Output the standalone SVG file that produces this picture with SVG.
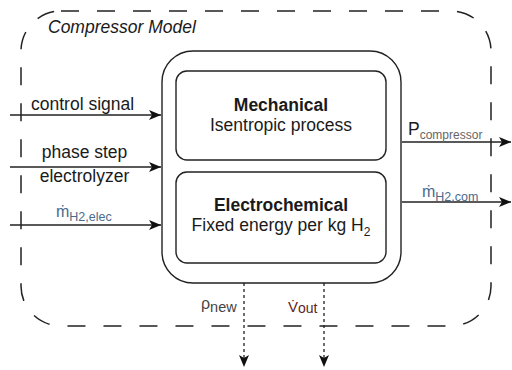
<svg xmlns="http://www.w3.org/2000/svg" width="512" height="370" viewBox="0 0 512 370">
<defs>
<style>
text{font-family:"Liberation Sans",Arial,sans-serif;fill:#1a1a1a}
.lbl{font-size:17.5px}
.b{font-weight:bold}
.mid{text-anchor:middle}
.box{fill:none;stroke:#222;stroke-width:1.4}
.edge{fill:none;stroke:#222;stroke-width:1.4}
.dash{fill:none;stroke:#222;stroke-width:1.3;stroke-dasharray:3 3}
.blue{fill:#4a6a8c}
.red{fill:#5e2424}
.gray{fill:#444}
.sub{fill:#666}
</style>
<marker id="arr" viewBox="0 0 12 10" refX="12" refY="5" markerWidth="12" markerHeight="10" markerUnits="userSpaceOnUse" orient="auto">
<path d="M0,0 L12,5 L0,10 L3,5 z" fill="#111"/>
</marker>
</defs>
<rect width="512" height="370" fill="#fff"/>
<g id="compressor-model">
<rect x="21" y="11" width="470" height="315" rx="40" ry="40" fill="none" stroke="#222" stroke-width="1.5" stroke-dasharray="18 18"/>
<text x="48" y="33" class="lbl" font-style="italic" fill="#333">Compressor Model</text>
</g>
<g id="connectors">
<line x1="10" y1="115" x2="161" y2="115" class="edge" marker-end="url(#arr)"/>
<line x1="10" y1="167" x2="161" y2="167" class="edge" marker-end="url(#arr)"/>
<line x1="10" y1="225" x2="161" y2="225" class="edge" stroke="#444" marker-end="url(#arr)"/>
<line x1="402" y1="142" x2="511" y2="142" class="edge" marker-end="url(#arr)"/>
<line x1="402" y1="202" x2="511" y2="202" class="edge" stroke="#444" marker-end="url(#arr)"/>
<line x1="244" y1="283" x2="244" y2="367" class="dash" marker-end="url(#arr)"/>
<line x1="324" y1="283" x2="324" y2="367" class="dash" marker-end="url(#arr)"/>
<text x="31" y="110" class="lbl">control signal</text>
<text x="84.5" y="158" class="lbl mid">phase step</text>
<text x="84.5" y="182" class="lbl mid">electrolyzer</text>
<text x="56" y="217" class="blue" font-size="16">ṁ<tspan class="blue" font-size="12.5" dy="4">H2,elec</tspan></text>
<text x="408" y="135" font-size="17.5">P<tspan class="sub" font-size="12" dy="4">compressor</tspan></text>
<text x="422" y="197" class="blue" font-size="16">ṁ<tspan class="blue" font-size="12.5" dy="4">H2,com</tspan></text>
<text x="201" y="309" class="gray" font-size="16">ρ<tspan class="gray" font-size="14.5" dy="3">new</tspan></text>
<text x="288" y="312" class="red" font-size="15">V̇<tspan class="red" font-size="14" dy="1">out</tspan></text>
</g>
<g id="compressor">
<rect x="162" y="51" width="239" height="232" rx="31" ry="31" class="box"/>
</g>
<g id="mechanical">
<rect x="176" y="71" width="210" height="89" rx="11" ry="11" class="box"/>
<text x="281" y="111" class="lbl b mid">Mechanical</text>
<text x="281" y="131" class="lbl mid">Isentropic process</text>
</g>
<g id="electrochemical">
<rect x="176" y="172" width="210" height="91" rx="11" ry="11" class="box"/>
<text x="281" y="211" class="lbl b mid">Electrochemical</text>
<text x="281" y="231" class="lbl mid">Fixed energy per kg H<tspan font-size="12" dy="5">2</tspan></text>
</g>
</svg>
